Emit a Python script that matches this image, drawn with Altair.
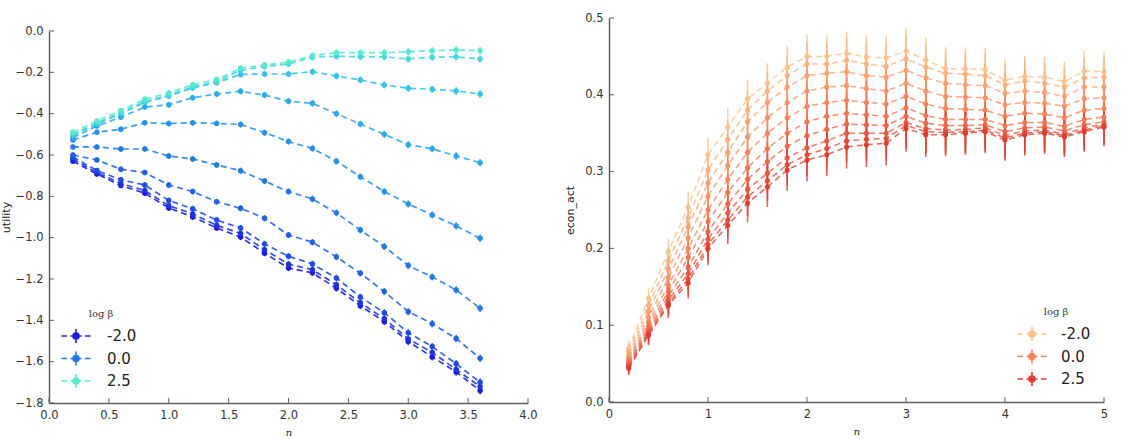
import altair as alt
import pandas as pd

# log(beta) values of the ten runs; the legends list only three of them
BETAS = ["-2.0", "-1.5", "-1.0", "-0.5", "0.0", "0.5", "1.0", "1.5", "2.0", "2.5"]
LEGEND_BETAS = ["-2.0", "0.0", "2.5"]

# ---- left panel: utility against n ----
n_util = [0.2, 0.4, 0.6, 0.8, 1.0, 1.2, 1.4, 1.6, 1.8, 2.0, 2.2, 2.4, 2.6, 2.8, 3.0, 3.2, 3.4, 3.6]

util_m20 = [-0.63, -0.692, -0.748, -0.785, -0.856, -0.90, -0.953, -0.997, -1.075, -1.147, -1.17, -1.245, -1.33, -1.406, -1.503, -1.577, -1.65, -1.74]
util_m15 = [-0.62, -0.685, -0.738, -0.772, -0.845, -0.885, -0.94, -0.98, -1.058, -1.128, -1.155, -1.228, -1.315, -1.392, -1.49, -1.555, -1.638, -1.72]
util_m10 = [-0.61, -0.675, -0.72, -0.745, -0.82, -0.86, -0.915, -0.953, -1.03, -1.09, -1.127, -1.195, -1.287, -1.363, -1.46, -1.527, -1.61, -1.70]
util_m05 = [-0.60, -0.624, -0.669, -0.685, -0.745, -0.777, -0.826, -0.858, -0.906, -0.987, -1.022, -1.093, -1.172, -1.261, -1.358, -1.416, -1.488, -1.584]
util_00 = [-0.561, -0.561, -0.571, -0.571, -0.605, -0.619, -0.648, -0.676, -0.726, -0.777, -0.813, -0.88, -0.963, -1.043, -1.135, -1.19, -1.253, -1.342]
util_05 = [-0.527, -0.49, -0.475, -0.444, -0.448, -0.444, -0.447, -0.452, -0.492, -0.535, -0.568, -0.63, -0.705, -0.777, -0.837, -0.89, -0.943, -1.003]
util_10 = [-0.515, -0.46, -0.417, -0.368, -0.357, -0.323, -0.305, -0.292, -0.31, -0.34, -0.35, -0.40, -0.45, -0.50, -0.55, -0.57, -0.605, -0.637]
util_15 = [-0.505, -0.45, -0.40, -0.345, -0.315, -0.275, -0.25, -0.21, -0.208, -0.208, -0.197, -0.218, -0.237, -0.261, -0.277, -0.282, -0.29, -0.305]
util_20 = [-0.50, -0.445, -0.395, -0.34, -0.31, -0.27, -0.245, -0.19, -0.172, -0.16, -0.127, -0.122, -0.125, -0.125, -0.135, -0.127, -0.125, -0.135]
util_25 = [-0.49, -0.435, -0.385, -0.33, -0.30, -0.26, -0.235, -0.18, -0.165, -0.15, -0.12, -0.105, -0.105, -0.105, -0.10, -0.095, -0.092, -0.095]
util_err = [0.012, 0.012, 0.013, 0.013, 0.014, 0.014, 0.014, 0.015, 0.015, 0.015, 0.016, 0.016, 0.016, 0.017, 0.017, 0.017, 0.018, 0.018]

# ---- right panel: econ_act against n ----
n_econ = [0.2, 0.4, 0.6, 0.8, 1.0, 1.2, 1.4, 1.6, 1.8, 2.0, 2.2, 2.4, 2.6, 2.8, 3.0, 3.2, 3.4, 3.6, 3.8, 4.0, 4.2, 4.4, 4.6, 4.8, 5.0]

econ_m20 = [0.07, 0.135, 0.196, 0.254, 0.322, 0.358, 0.395, 0.415, 0.436, 0.45, 0.45, 0.454, 0.449, 0.448, 0.457, 0.445, 0.434, 0.434, 0.433, 0.419, 0.424, 0.423, 0.417, 0.431, 0.43]
econ_m15 = [0.066, 0.126, 0.184, 0.24, 0.302, 0.342, 0.38, 0.405, 0.425, 0.44, 0.44, 0.445, 0.44, 0.437, 0.447, 0.436, 0.428, 0.427, 0.425, 0.413, 0.418, 0.415, 0.41, 0.422, 0.423]
econ_m10 = [0.062, 0.118, 0.173, 0.228, 0.285, 0.325, 0.365, 0.39, 0.41, 0.425, 0.428, 0.43, 0.425, 0.423, 0.432, 0.422, 0.415, 0.413, 0.412, 0.402, 0.405, 0.403, 0.398, 0.41, 0.41]
econ_m05 = [0.058, 0.11, 0.162, 0.214, 0.268, 0.308, 0.345, 0.37, 0.39, 0.405, 0.41, 0.412, 0.408, 0.405, 0.415, 0.405, 0.398, 0.397, 0.396, 0.387, 0.39, 0.389, 0.385, 0.395, 0.396]
econ_00 = [0.055, 0.104, 0.152, 0.2, 0.25, 0.29, 0.325, 0.35, 0.37, 0.385, 0.39, 0.393, 0.39, 0.388, 0.398, 0.388, 0.382, 0.381, 0.38, 0.372, 0.376, 0.375, 0.37, 0.38, 0.382]
econ_05 = [0.052, 0.099, 0.144, 0.188, 0.235, 0.273, 0.305, 0.33, 0.35, 0.365, 0.372, 0.376, 0.374, 0.372, 0.383, 0.373, 0.368, 0.368, 0.368, 0.36, 0.364, 0.364, 0.359, 0.368, 0.371]
econ_10 = [0.05, 0.095, 0.138, 0.176, 0.222, 0.258, 0.29, 0.313, 0.333, 0.347, 0.355, 0.362, 0.361, 0.36, 0.372, 0.363, 0.36, 0.36, 0.361, 0.352, 0.357, 0.358, 0.353, 0.361, 0.365]
econ_15 = [0.048, 0.092, 0.133, 0.167, 0.212, 0.246, 0.277, 0.298, 0.318, 0.331, 0.34, 0.35, 0.35, 0.35, 0.364, 0.356, 0.354, 0.355, 0.357, 0.347, 0.353, 0.354, 0.349, 0.357, 0.362]
econ_20 = [0.046, 0.089, 0.129, 0.16, 0.205, 0.237, 0.267, 0.288, 0.309, 0.322, 0.33, 0.34, 0.342, 0.343, 0.36, 0.352, 0.351, 0.352, 0.354, 0.344, 0.35, 0.352, 0.347, 0.354, 0.36]
econ_25 = [0.044, 0.087, 0.126, 0.155, 0.2, 0.23, 0.259, 0.28, 0.302, 0.315, 0.322, 0.332, 0.335, 0.337, 0.356, 0.348, 0.348, 0.35, 0.352, 0.341, 0.348, 0.35, 0.345, 0.352, 0.358]
econ_err = [0.009, 0.013, 0.017, 0.02, 0.022, 0.024, 0.025, 0.026, 0.027, 0.028, 0.028, 0.028, 0.029, 0.029, 0.03, 0.029, 0.028, 0.028, 0.028, 0.027, 0.027, 0.027, 0.026, 0.026, 0.025]

# colour ramps (blue -> aqua for utility, peach -> red for econ_act)
util_colors = ["#1c1cd8", "#1e34dd", "#1f4ce2", "#2063e6", "#227aea", "#2792ec", "#2daaec", "#36c2e8", "#44d8df", "#55ebcf"]
econ_colors = ["#fdc28c", "#fbb27e", "#f9a271", "#f79365", "#f4845b", "#f07551", "#ec6648", "#e75840", "#e24a38", "#dc3d30"]

# axis ticks
util_xticks = [0.0, 0.5, 1.0, 1.5, 2.0, 2.5, 3.0, 3.5, 4.0]
util_yticks = [-1.8, -1.6, -1.4, -1.2, -1.0, -0.8, -0.6, -0.4, -0.2, 0.0]
econ_xticks = [0, 1, 2, 3, 4, 5]
econ_yticks = [0.0, 0.1, 0.2, 0.3, 0.4, 0.5]

AXIS_GREY = "#5f5f5f"

# legend handle: dashed line, errorbar and a dot
HANDLE = ("M-1.45,0H-0.9M-0.55,0H0.55M0.9,0H1.45M0,-0.7V0.7"
          "M0.3,0A0.3,0.3,0,1,1,-0.3,0A0.3,0.3,0,1,1,0.3,0"
          "M0.15,0A0.15,0.15,0,1,1,-0.15,0A0.15,0.15,0,1,1,0.15,0")


def long_frame(n, series, err):
    rows = []
    for beta, vals in zip(BETAS, series):
        for x, v, e in zip(n, vals, err):
            rows.append({"n": x, "v": v, "lo": v - e, "hi": v + e, "beta": beta})
    return pd.DataFrame(rows)


def panel(df, w, h, xdom, ydom, xticks, yticks, xfmt, yfmt, ytitle, colors,
          leg_x, leg_y, label_offset, ytitle_pad, line_w, point_size, opac):
    xs = alt.Scale(domain=xdom, nice=False, zero=False)
    ys = alt.Scale(domain=ydom, nice=False, zero=False)
    cs = alt.Scale(domain=BETAS, range=colors)
    base = alt.Chart(df)

    x_axis = alt.Axis(values=xticks, format=xfmt, title="n", labelPadding=6,
                      titleFont="DejaVu Serif", titleFontStyle="italic",
                      titleFontSize=10, titlePadding=7)
    y_axis = alt.Axis(values=yticks, format=yfmt, title=ytitle, labelPadding=6,
                      titlePadding=ytitle_pad)

    lines = base.mark_line(strokeDash=[6, 4], strokeWidth=line_w, opacity=opac).encode(
        x=alt.X("n:Q", scale=xs, axis=x_axis),
        y=alt.Y("v:Q", scale=ys, axis=y_axis),
        color=alt.Color("beta:N", scale=cs, legend=None),
    )
    bars = base.mark_rule(strokeWidth=1.6, opacity=opac).encode(
        x=alt.X("n:Q", scale=xs),
        y=alt.Y("lo:Q", scale=ys),
        y2="hi:Q",
        color=alt.Color("beta:N", scale=cs, legend=None),
    )
    dots = base.mark_circle(size=point_size, opacity=1).encode(
        x=alt.X("n:Q", scale=xs),
        y=alt.Y("v:Q", scale=ys),
        color=alt.Color("beta:N", scale=cs, legend=None),
    )
    legend_layer = base.transform_filter("false").mark_point(
        shape=HANDLE, filled=False).encode(
        x=alt.X("n:Q", scale=xs),
        y=alt.Y("v:Q", scale=ys),
        color=alt.Color("beta:N", scale=cs, legend=alt.Legend(
            values=LEGEND_BETAS, title="log β", orient="none",
            legendX=leg_x, legendY=leg_y, padding=0,
            symbolType=HANDLE, symbolSize=400, symbolStrokeWidth=1.6,
            symbolOpacity=1, symbolFillColor="transparent",
            labelFont="DejaVu Sans", labelFontSize=15, labelColor="#222",
            labelOffset=label_offset, rowPadding=0.5,
            titleFont="DejaVu Serif", titleFontSize=10, titleFontWeight="normal",
            titleColor="#333", titleAnchor="middle", titlePadding=6)),
    )
    xt = alt.Chart(pd.DataFrame({"t": xticks})).mark_rule(color=AXIS_GREY, strokeWidth=1).encode(
        x=alt.X("t:Q", scale=xs), y=alt.value(h), y2=alt.value(h - 5))
    yt = alt.Chart(pd.DataFrame({"t": yticks})).mark_rule(color=AXIS_GREY, strokeWidth=1).encode(
        y=alt.Y("t:Q", scale=ys), x=alt.value(0), x2=alt.value(5))

    return alt.layer(lines, bars, dots, legend_layer, xt, yt).resolve_legend(
        color="independent").properties(width=w, height=h)


util_df = long_frame(n_util, [util_m20, util_m15, util_m10, util_m05, util_00,
                              util_05, util_10, util_15, util_20, util_25], util_err)
econ_df = long_frame(n_econ, [econ_m20, econ_m15, econ_m10, econ_m05, econ_00,
                              econ_05, econ_10, econ_15, econ_20, econ_25], econ_err)

left = panel(util_df, 479, 372, [0, 4], [-1.8, 0.0], util_xticks, util_yticks,
             ".1f", ".1f", "utility", util_colors, 16, 278, 20, 4, 1.7, 30, 0.9)
right = panel(econ_df, 495, 384, [0, 5], [0.0, 0.5], econ_xticks, econ_yticks,
              "d", ".1f", "econ_act", econ_colors, 412, 289, 18, 9, 1.5, 26, 0.8)

# keeps the left panel's top edge a little lower than the right one
spacer = alt.Chart(pd.DataFrame({"s": [0]})).mark_point(opacity=0).encode(
    x=alt.value(0), y=alt.value(0)).properties(width=479, height=7)

chart = alt.hconcat(
    alt.vconcat(spacer, left, spacing=0), right, spacing=26
).resolve_scale(color="independent").resolve_legend(color="independent").properties(
    padding={"left": 0, "top": 12, "right": 0, "bottom": 0}
).configure_view(stroke=None).configure_axis(
    domainColor=AXIS_GREY, domainWidth=1.5, ticks=False, grid=False, labelFlush=False,
    labelFont="DejaVu Sans", labelFontSize=11.5, labelColor="#333",
    titleFont="DejaVu Sans", titleFontSize=11, titleFontWeight="normal", titleColor="#222",
)

chart.save("out.html", embed_options={"renderer": "svg", "actions": False})
